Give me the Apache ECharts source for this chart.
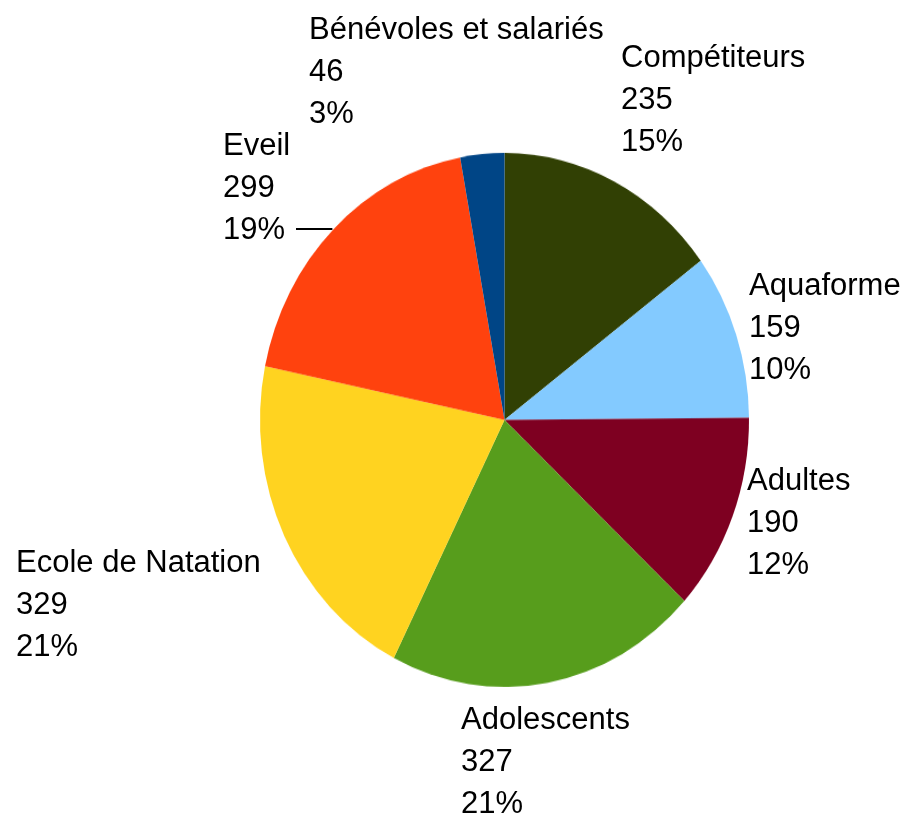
<!DOCTYPE html>
<html>
<head>
<meta charset="utf-8">
<script src="https://cdn.jsdelivr.net/npm/echarts@6/dist/echarts.min.js"></script>
<style>
  html, body { margin: 0; padding: 0; background: #fff; }
  #wrap { position: relative; width: 906px; height: 818px; overflow: hidden; }
  /* the pie in the picture is a bit taller than wide, so stretch that layer only */
  #pie { position: absolute; left: 0; top: 0; width: 906px; height: 749px; transform: scaleY(1.092); transform-origin: 0 0; }
  #labels { position: absolute; left: 0; top: 0; width: 906px; height: 818px; }
</style>
</head>
<body>
<div id="wrap">
  <div id="pie"></div>
  <div id="labels"></div>
</div>
<script>
const categories = ['Compétiteurs', 'Aquaforme', 'Adultes', 'Adolescents', 'Ecole de Natation', 'Eveil', 'Bénévoles et salariés'];
const values = [235, 159, 190, 327, 329, 299, 46];
const percents = ['15%', '10%', '12%', '21%', '21%', '19%', '3%'];
const colors = ['#314004', '#83caff', '#7e0021', '#579d1c', '#ffd320', '#ff420e', '#004586'];

// top-left corner of each label block
const labelPos = [
  [621, 37], [749, 265], [747, 460], [461, 699], [16, 542], [223, 125], [309, 9]
];

const seriesData = categories.map((name, i) => ({
  name: name,
  value: values[i],
  itemStyle: { color: colors[i] },
  labelLine: { show: i === 5 }
}));

const pieChart = echarts.init(document.getElementById('pie'));
pieChart.setOption({
  animation: false,
  series: [{
    type: 'pie',
    center: [504.5, 384.6],
    radius: 244.5,
    startAngle: 90,
    clockwise: true,
    silent: true,
    label: { show: false },
    labelLine: { show: false },
    data: seriesData
  }]
});

const labelChart = echarts.init(document.getElementById('labels'));
labelChart.setOption({
  animation: false,
  series: [{
    type: 'pie',
    center: [504.5, 420],
    radius: 256,
    startAngle: 90,
    clockwise: true,
    silent: true,
    itemStyle: { color: 'rgba(0,0,0,0)' },
    label: {
      show: true,
      position: 'outside',
      overflow: 'none',
      formatter: (p) => p.name + '\n' + p.value + '\n' + percents[p.dataIndex],
      fontFamily: 'Liberation Sans',
      fontSize: 31,
      lineHeight: 42,
      color: '#000'
    },
    labelLine: {
      lineStyle: { color: '#000', width: 2 }
    },
    labelLayout: function (params) {
      const pos = labelPos[params.dataIndex];
      const out = { x: pos[0], y: pos[1], align: 'left', verticalAlign: 'top', hideOverlap: false };
      if (params.dataIndex === 5) {
        const p0 = params.labelLinePoints ? params.labelLinePoints[0] : [333, 229];
        const ly = 229;
        out.labelLinePoints = [[p0[0] + 7, ly], [pos[0] + 73, ly]];
      }
      return out;
    },
    data: seriesData.map(d => ({ name: d.name, value: d.value, labelLine: d.labelLine }))
  }]
});
</script>
</body>
</html>
